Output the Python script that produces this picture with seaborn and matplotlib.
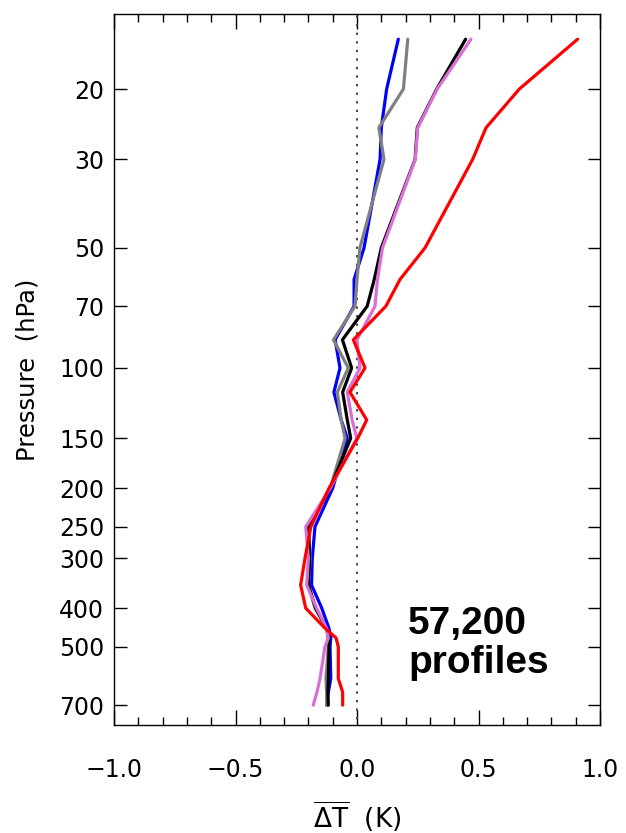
import matplotlib
matplotlib.use("Agg")
import matplotlib.pyplot as plt
import matplotlib.ticker as mticker
import seaborn as sns
import pandas as pd

# ---- data ----
levels = [15, 20, 25, 30, 50, 60, 70, 85, 100, 115, 135, 150, 200,
          250, 300, 350, 400, 450, 475, 500, 600, 650, 700]
blue = [0.170, 0.122, 0.100, 0.095, 0.029, -0.012, -0.012, -0.090, -0.070, -0.095, -0.065, -0.040, -0.100,
        -0.173, -0.184, -0.187, -0.145, -0.115, -0.108, -0.111, -0.108, -0.118, -0.125]
gray = [0.209, 0.191, 0.090, 0.111, 0.012, 0.000, -0.008, -0.097, -0.036, -0.081, -0.065, -0.049, -0.110,
        -0.200, -0.193, -0.200, -0.173, -0.125, -0.120, -0.118, -0.128, -0.125, -0.125]
black = [0.447, 0.328, 0.248, 0.239, 0.100, 0.071, 0.042, -0.060, -0.022, -0.059, -0.040, -0.026, -0.110,
         -0.200, -0.195, -0.200, -0.170, -0.125, -0.115, -0.115, -0.118, -0.120, -0.118]
pink = [0.469, 0.330, 0.250, 0.240, 0.105, 0.084, 0.074, 0.000, 0.012, -0.040, -0.020, -0.001, -0.110,
        -0.211, -0.200, -0.207, -0.166, -0.125, -0.118, -0.132, -0.152, -0.165, -0.180]
red = [0.908, 0.668, 0.531, 0.476, 0.280, 0.177, 0.119, -0.015, 0.033, -0.029, 0.040, 0.003, -0.115,
       -0.190, -0.214, -0.232, -0.211, -0.130, -0.086, -0.077, -0.077, -0.059, -0.059]
series_names = ["blue", "gray", "black", "pink", "red"]
series_vals = [blue, gray, black, pink, red]
series_colors = ["#0000ff", "#808080", "#000000", "#da70d6", "#ff0000"]
yticks = [20, 30, 50, 70, 100, 150, 200, 250, 300, 400, 500, 700]
xticks = [-1.0, -0.5, 0.0, 0.5, 1.0]
xticklabels = ["\u22121.0", "\u22120.5", "0.0", "0.5", "1.0"]
annotation = "57,200\nprofiles"

sns.set_style("ticks")
plt.rcParams["font.family"] = ["DejaVu Sans"]
plt.rcParams["mathtext.fontset"] = "dejavusans"
plt.rcParams["text.color"] = "black"
plt.rcParams["axes.labelcolor"] = "black"
plt.rcParams["xtick.color"] = "black"
plt.rcParams["ytick.color"] = "black"

fig = plt.figure(figsize=(6.26, 8.33), dpi=100)
ax = fig.add_axes([114 / 626, 1 - 725 / 833, (600 - 114) / 626, (725 - 14) / 833])
ax.set_yscale("log")

# zero line
zero_df = pd.DataFrame({"x": [0.0, 0.0], "p": [800, 12]})
sns.lineplot(data=zero_df, x="x", y="p", ax=ax, sort=False, estimator=None,
             color="#444444", linestyle=(0, (1.2, 3.2)), linewidth=1.4)

for name, vals, col in zip(series_names, series_vals, series_colors):
    df = pd.DataFrame({"dT": vals, "p": levels})
    sns.lineplot(data=df, x="dT", y="p", ax=ax, sort=False, estimator=None,
                 color=col, linewidth=2.3)

ax.set_xlim(-1.0, 1.0)
ax.set_ylim(785, 12.97)

ax.yaxis.set_major_locator(mticker.FixedLocator(yticks))
ax.yaxis.set_major_formatter(mticker.FixedFormatter([str(t) for t in yticks]))
ax.yaxis.set_minor_locator(mticker.NullLocator())
ax.xaxis.set_major_locator(mticker.FixedLocator(xticks))
ax.xaxis.set_major_formatter(mticker.FixedFormatter(xticklabels))
ax.xaxis.set_minor_locator(mticker.MultipleLocator(0.1))

ax.tick_params(axis="both", which="both", direction="in", top=True, right=True,
               color="black", labelcolor="black", width=1.0)
ax.tick_params(axis="x", which="major", length=11, labelsize=17, pad=24)
ax.tick_params(axis="x", which="minor", length=5.5)
ax.tick_params(axis="y", which="major", length=9, labelsize=17, pad=7)
for s in ax.spines.values():
    s.set_color("black")
    s.set_linewidth(1.0)

ax.set_xlabel(r"$\overline{\Delta \mathrm{T}}$  (K)", fontsize=19, labelpad=12, color="black")
ax.set_ylabel("Pressure  (hPa)", fontsize=17.5, labelpad=14, color="black")

fig.text(408 / 626, 1 - 673 / 833, annotation, fontsize=28, fontweight="bold",
         family="Liberation Sans", ha="left", va="baseline", linespacing=1.12, color="black")

fig.savefig("out.png", dpi=100)
